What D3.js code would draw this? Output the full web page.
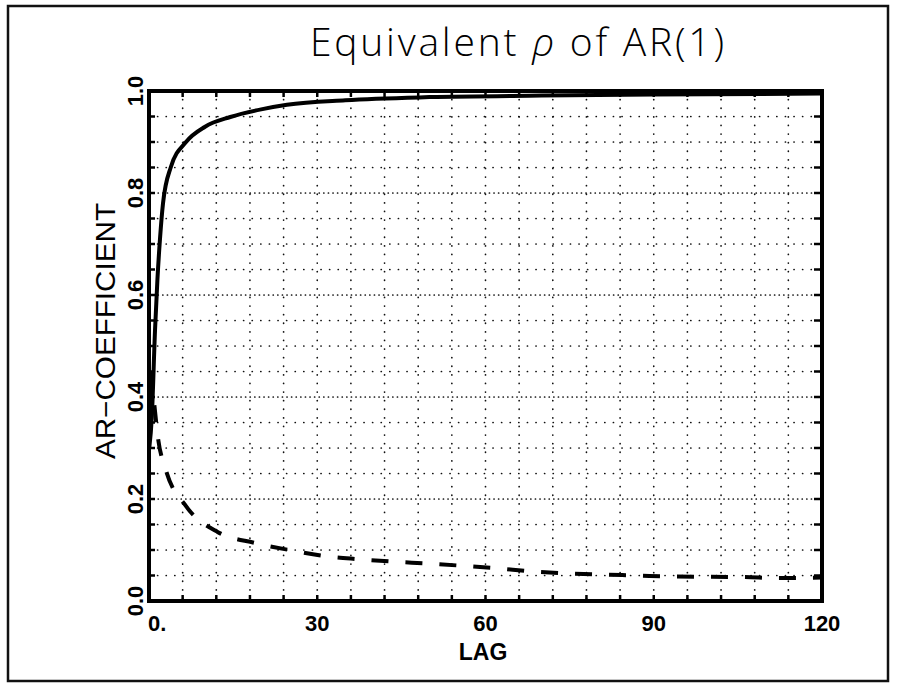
<!DOCTYPE html>
<html>
<head>
<meta charset="utf-8">
<script src="https://cdn.jsdelivr.net/npm/d3@7"></script>
<style>
  body { margin: 0; background: #fff; }
  svg { display: block; }
</style>
</head>
<body>
<div id="chart"></div>
<script>
// values
const solidLag = [0.05, 0.5, 1.07, 1.5, 1.96, 2.5, 3.9, 6.6, 10, 14.5, 20, 24.6, 35, 50, 70, 90, 120];
const solidRho = [0.3, 0.36, 0.53, 0.63, 0.71, 0.78, 0.851, 0.9, 0.93, 0.949, 0.964, 0.973, 0.982, 0.988, 0.991, 0.993, 0.995];

const dashLag = [0.3, 0.9, 1.6, 3.0, 6.6, 12.3, 18.8, 25, 31.3, 37.3, 43.8, 49.8, 55.9, 62.1, 68.2, 80.2, 87.1, 93, 105.9, 112.3, 120];
const dashRho = [0.45, 0.39, 0.32, 0.257, 0.186, 0.135, 0.114, 0.10, 0.088, 0.082, 0.077, 0.0735, 0.069, 0.064, 0.058, 0.052, 0.050, 0.048, 0.047, 0.045, 0.046];

const xTickValues = [0, 30, 60, 90, 120];
const xTickLabels = ["0.", "30", "60", "90", "120"];
const yTickValues = [0, 0.2, 0.4, 0.6, 0.8, 1.0];
const yTickLabels = ["0.0", "0.2", "0.4", "0.6", "0.8", "1.0"];
const xMinorStep = 6;
const yMinorStep = 0.05;

const width = 897, height = 685;
const plot = { left: 149, right: 822, top: 91, bottom: 601 };

const svg = d3.select("#chart")
    .append("svg")
    .attr("width", width)
    .attr("height", height)
    .attr("viewBox", `0 0 ${width} ${height}`);

// page frame from the scan
svg.append("rect")
    .attr("x", 8).attr("y", 6)
    .attr("width", 880).attr("height", 675)
    .attr("fill", "none")
    .attr("stroke", "#111")
    .attr("stroke-width", 2.5);

const xScale = d3.scaleLinear().domain([0, 120]).range([plot.left, plot.right]);
const yScale = d3.scaleLinear().domain([0, 1]).range([plot.bottom, plot.top]);

const xMinor = d3.range(xMinorStep, 120, xMinorStep);
const yMinor = d3.range(1, 20).map(i => +(i * yMinorStep).toFixed(2));

// dotted grid
const grid = svg.append("g").attr("class", "grid");
grid.selectAll(".hgrid")
    .data(yMinor)
    .enter()
    .append("line")
    .attr("class", "hgrid")
    .attr("x1", plot.left).attr("x2", plot.right)
    .attr("y1", d => yScale(d)).attr("y2", d => yScale(d))
    .attr("stroke", "#111")
    .attr("stroke-width", 1.7)
    .attr("stroke-linecap", "round")
    .attr("stroke-dasharray", d => (Math.round(d * 100) % 20 === 0) ? "0.1,4.5" : "0.1,8.5");

grid.selectAll(".vgrid")
    .data(xMinor)
    .enter()
    .append("line")
    .attr("class", "vgrid")
    .attr("x1", d => xScale(d)).attr("x2", d => xScale(d))
    .attr("y1", plot.top).attr("y2", plot.bottom)
    .attr("stroke", "#111")
    .attr("stroke-width", 1.7)
    .attr("stroke-linecap", "round")
    .attr("stroke-dasharray", "0.1,8.5");

// inward ticks on all four sides
const tickLen = 6;
const ticks = svg.append("g").attr("class", "ticks").attr("stroke", "#000").attr("stroke-width", 2.5);
ticks.selectAll(".tl").data(yMinor).enter().append("line")
    .attr("x1", plot.left).attr("x2", plot.left + tickLen)
    .attr("y1", d => yScale(d)).attr("y2", d => yScale(d));
ticks.selectAll(".tr").data(yMinor).enter().append("line")
    .attr("x1", plot.right).attr("x2", plot.right - tickLen - 2)
    .attr("y1", d => yScale(d)).attr("y2", d => yScale(d));
ticks.selectAll(".tb").data(xMinor).enter().append("line")
    .attr("x1", d => xScale(d)).attr("x2", d => xScale(d))
    .attr("y1", plot.bottom).attr("y2", plot.bottom - tickLen);
ticks.selectAll(".tt").data(xMinor).enter().append("line")
    .attr("x1", d => xScale(d)).attr("x2", d => xScale(d))
    .attr("y1", plot.top).attr("y2", plot.top + tickLen);

// curves
const solidData = solidLag.map((d, i) => ({ lag: d, rho: solidRho[i] }));
const dashData = dashLag.map((d, i) => ({ lag: d, rho: dashRho[i] }));

const line = d3.line()
    .x(d => xScale(d.lag))
    .y(d => yScale(d.rho))
    .curve(d3.curveMonotoneX);

svg.append("path")
    .datum(solidData)
    .attr("d", line)
    .attr("fill", "none")
    .attr("stroke", "#000")
    .attr("stroke-width", 4);

svg.append("path")
    .datum(dashData)
    .attr("d", line)
    .attr("fill", "none")
    .attr("stroke", "#000")
    .attr("stroke-width", 4)
    .attr("stroke-dasharray", "17,17");

// frame of the plot
svg.append("rect")
    .attr("x", plot.left).attr("y", plot.top)
    .attr("width", plot.right - plot.left)
    .attr("height", plot.bottom - plot.top)
    .attr("fill", "none")
    .attr("stroke", "#000")
    .attr("stroke-width", 4);

// tick labels
svg.selectAll(".xlabel")
    .data(xTickValues)
    .enter()
    .append("text")
    .attr("class", "xlabel")
    .attr("x", (d, i) => i === 0 ? xScale(d) - 1 : xScale(d))
    .attr("y", plot.bottom + 30)
    .style("font-family", "'Liberation Sans', Arial, sans-serif")
    .style("font-size", "22px")
    .style("font-weight", "bold")
    .style("text-anchor", (d, i) => i === 0 ? "start" : "middle")
    .text((d, i) => xTickLabels[i]);

svg.selectAll(".ylabel")
    .data(yTickValues)
    .enter()
    .append("text")
    .attr("class", "ylabel")
    .attr("transform", d => `translate(143, ${yScale(d)}) rotate(-90)`)
    .style("font-family", "'Liberation Sans', Arial, sans-serif")
    .style("font-size", "22px")
    .style("font-weight", "bold")
    .style("text-anchor", "middle")
    .text((d, i) => yTickLabels[i]);

// axis titles
svg.append("text")
    .text("LAG")
    .attr("x", 483)
    .attr("y", 660)
    .style("font-family", "'Liberation Sans', Arial, sans-serif")
    .style("font-size", "23px")
    .style("font-weight", "bold")
    .style("text-anchor", "middle");

svg.append("text")
    .text("AR\u2212COEFFICIENT")
    .attr("transform", "translate(115, 331) rotate(-90)")
    .attr("textLength", 256)
    .attr("lengthAdjust", "spacingAndGlyphs")
    .style("font-family", "'Liberation Sans', Arial, sans-serif")
    .style("font-size", "27px")
    .style("text-anchor", "middle");

// title
const title = svg.append("text")
    .attr("x", 517)
    .attr("y", 56)
    .attr("textLength", 414)
    .attr("lengthAdjust", "spacing")
    .style("font-family", "'Open Sans', sans-serif")
    .style("font-size", "39px")
    .style("font-weight", "300")
    .style("text-anchor", "middle");
title.append("tspan").text("Equivalent ");
title.append("tspan").style("font-style", "italic").text("\u03c1");
title.append("tspan").text(" of AR(1)");
</script>
</body>
</html>
